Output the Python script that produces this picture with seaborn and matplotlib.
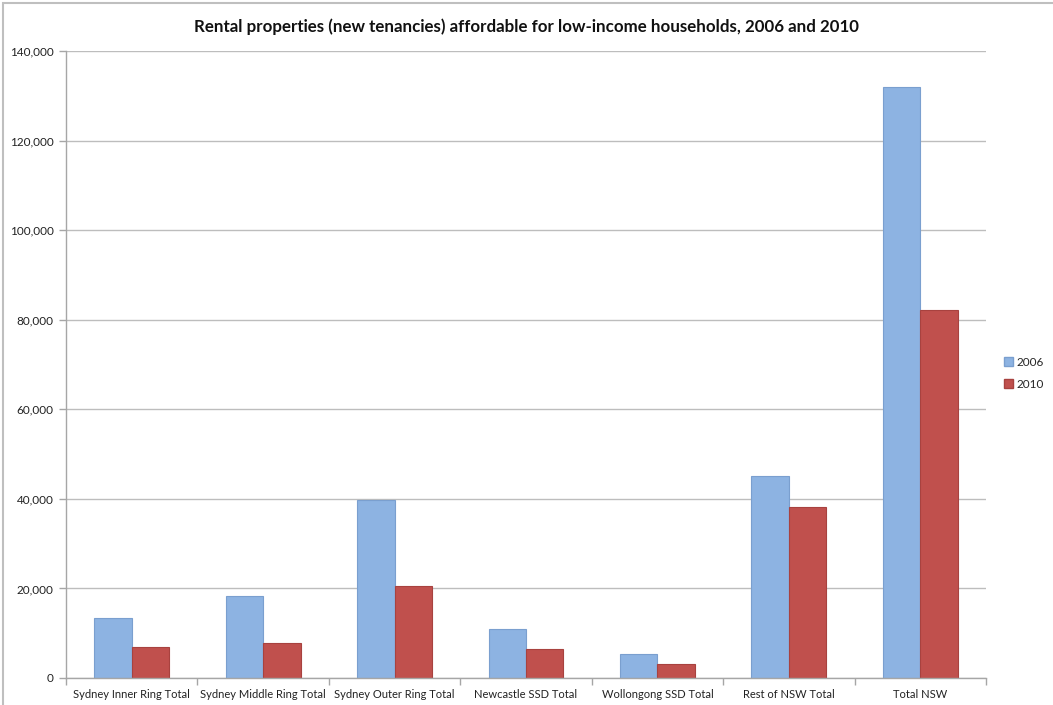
import matplotlib
matplotlib.use("Agg")
import matplotlib.pyplot as plt
import matplotlib.patches as mpatches
import seaborn as sns
import pandas as pd
from matplotlib.ticker import FuncFormatter, MultipleLocator

regions = [
    "Sydney Inner Ring Total",
    "Sydney Middle Ring Total",
    "Sydney Outer Ring Total",
    "Newcastle SSD Total",
    "Wollongong SSD Total",
    "Rest of NSW Total",
    "Total NSW",
]
years = ["2006", "2010"]
values_2006 = [13400, 18300, 39700, 10900, 5400, 45100, 132000]
values_2010 = [6900, 7800, 20500, 6500, 3100, 38200, 82200]

df = pd.DataFrame({
    "Region": regions * 2,
    "Year": [years[0]] * len(regions) + [years[1]] * len(regions),
    "Properties": values_2006 + values_2010,
})

sns.set_theme(style="white")
plt.rcParams["font.family"] = ["Lato", "DejaVu Sans"]

fig = plt.figure(figsize=(10.53, 7.05), dpi=100)
ax = fig.add_axes([66 / 1053, 27 / 705, 920 / 1053, 627 / 705])

palette = {"2006": "#8DB3E2", "2010": "#C0504D"}
edges = {"2006": "#7A9FCF", "2010": "#A8423F"}

sns.barplot(data=df, x="Region", y="Properties", hue="Year", order=regions,
            hue_order=years, palette=palette, width=0.57, ax=ax,
            errorbar=None, saturation=1, legend=True)

for container, yr in zip(ax.containers, years):
    for bar in container:
        bar.set_edgecolor(edges[yr])
        bar.set_linewidth(0.8)

ax.set_ylim(0, 140000)
ax.set_xlim(-0.5, len(regions) - 0.5)
ax.yaxis.set_major_locator(MultipleLocator(20000))
ax.yaxis.set_major_formatter(FuncFormatter(lambda v, p: f"{int(v):,}"))
ax.grid(axis="y", color="#BDBDBD", linewidth=1.0)
ax.set_axisbelow(True)
ax.set_xlabel("")
ax.set_ylabel("")

for side in ["top", "right"]:
    ax.spines[side].set_visible(False)
for side in ["left", "bottom"]:
    ax.spines[side].set_color("#A6A6A6")
    ax.spines[side].set_linewidth(1.0)

# category separators as x tick marks; labels on minor ticks at centres
ax.set_xticks([i - 0.5 for i in range(len(regions) + 1)])
ax.set_xticklabels([])
ax.set_xticks(range(len(regions)), minor=True)
ax.set_xticklabels(regions, minor=True, fontsize=8, color="#222222")
ax.tick_params(axis="x", which="major", length=5, width=1, color="#A6A6A6",
               bottom=True, direction="out")
ax.tick_params(axis="x", which="minor", length=0, pad=8)
ax.tick_params(axis="y", length=5, width=1, color="#A6A6A6", left=True,
               direction="out", labelsize=8.5, labelcolor="#222222", pad=4)

ax.set_title("Rental properties (new tenancies) affordable for low-income households, 2006 and 2010",
             fontsize=12.2, fontweight="bold", color="#111111", pad=14)

handles = [mpatches.Patch(facecolor=palette[y], edgecolor=edges[y], label=y) for y in years]
ax.legend(handles=handles, loc="center left", bbox_to_anchor=(1.008, 0.486),
          frameon=False, fontsize=8.5, handlelength=0.8, handleheight=0.8,
          handletextpad=0.3, labelspacing=0.9)

fig.patches.append(mpatches.Rectangle((3 / 1053, -0.05), 1.1, 1.0 - 3 / 705 + 0.05,
                                      transform=fig.transFigure, fill=False,
                                      edgecolor="#BFBFBF", linewidth=1.5))

fig.savefig("out.png", dpi=100)
